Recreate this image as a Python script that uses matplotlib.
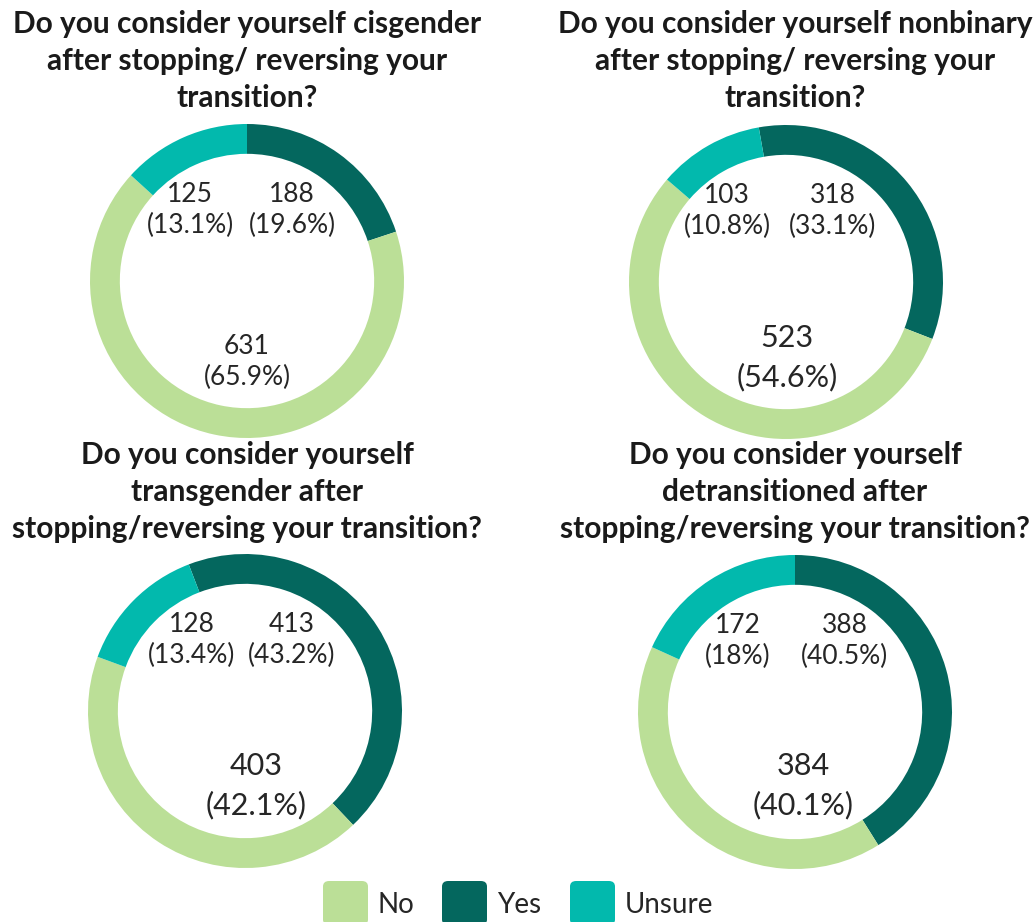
import matplotlib.pyplot as plt
from matplotlib.patches import FancyBboxPatch

W, H = 1033, 922

categories = ['Yes', 'No', 'Unsure']
colors = {'No': '#bbdf97', 'Yes': '#04675e', 'Unsure': '#02b9ad'}

titles = [
    'Do you consider yourself cisgender\nafter stopping/ reversing your\ntransition?',
    'Do you consider yourself nonbinary\nafter stopping/ reversing your\ntransition?',
    'Do you consider yourself\ntransgender after\nstopping/reversing your transition?',
    'Do you consider yourself\ndetransitioned after\nstopping/reversing your transition?',
]

# counts per chart, ordered as categories (Yes, No, Unsure)
cisgender = [188, 631, 125]
nonbinary = [318, 523, 103]
transgender = [413, 403, 128]
detransitioned = [388, 384, 172]

# percentage labels as reported in the survey
cisgender_pct = ['19.6%', '65.9%', '13.1%']
nonbinary_pct = ['33.1%', '54.6%', '10.8%']
transgender_pct = ['43.2%', '42.1%', '13.4%']
detransitioned_pct = ['40.5%', '40.1%', '18%']

start_angles = [90, 100, 111, 90]

# layout in pixels: donut centre, radius, title centre x, title top y
centres = [(247, 281), (786, 282), (245, 711), (795, 712)]
radius = 157
title_pos = [(247, 10), (795, 10), (247, 441), (795, 441)]
# label offsets from the centre (px): Yes, No, Unsure
label_offsets = [
    [(45, -71), (0, 81), (-57, -71)],
    [(47, -71), (1, 76), (-59, -71)],
    [(47, -71), (11, 75), (-53, -71)],
    [(50, -71), (8, 74), (-57, -71)],
]
big_no = [False, True, True, True]

data = [cisgender, nonbinary, transgender, detransitioned]
pcts = [cisgender_pct, nonbinary_pct, transgender_pct, detransitioned_pct]

plt.rcParams['font.family'] = ['Lato', 'DejaVu Sans']
fig = plt.figure(figsize=(W / 100, H / 100), dpi=100)


def fx(x):
    return x / W


def fy(y):
    return 1 - y / H


for i in range(4):
    cx, cy = centres[i]
    ax = fig.add_axes([fx(cx - radius), fy(cy + radius), 2 * radius / W, 2 * radius / H])
    ax.pie(data[i], colors=[colors[c] for c in categories], startangle=start_angles[i],
           counterclock=False, radius=1, wedgeprops=dict(width=0.19, linewidth=0))
    ax.set_xlim(-1, 1)
    ax.set_ylim(-1, 1)
    ax.set_aspect('auto')
    ax.axis('off')

    for j, cat in enumerate(categories):
        dx, dy = label_offsets[i][j]
        big = cat == 'No' and big_no[i]
        fig.text(fx(cx + dx), fy(cy + dy), f'{data[i][j]}\n({pcts[i][j]})',
                 ha='center', va='center', fontsize=22 if big else 19,
                 color='#262626', linespacing=1.45 if big else 1.3)

    tx, ty = title_pos[i]
    fig.text(fx(tx), fy(ty), titles[i], ha='center', va='top', fontsize=21.5,
             fontweight='bold', color='#1a1a1a', linespacing=1.4)

# legend with rounded colour swatches
legend_x = [323, 442, 570]
for x, cat in zip(legend_x, ['No', 'Yes', 'Unsure']):
    box = FancyBboxPatch((fx(x), fy(925)), 45 / W, 44 / H,
                         boxstyle='round,pad=0,rounding_size=0.006',
                         transform=fig.transFigure, facecolor=colors[cat],
                         edgecolor='none')
    fig.patches.append(box)
    fig.text(fx(x + 55), fy(905), cat, ha='left', va='center', fontsize=20,
             color='#262626')

fig.savefig('out.png', dpi=100)
